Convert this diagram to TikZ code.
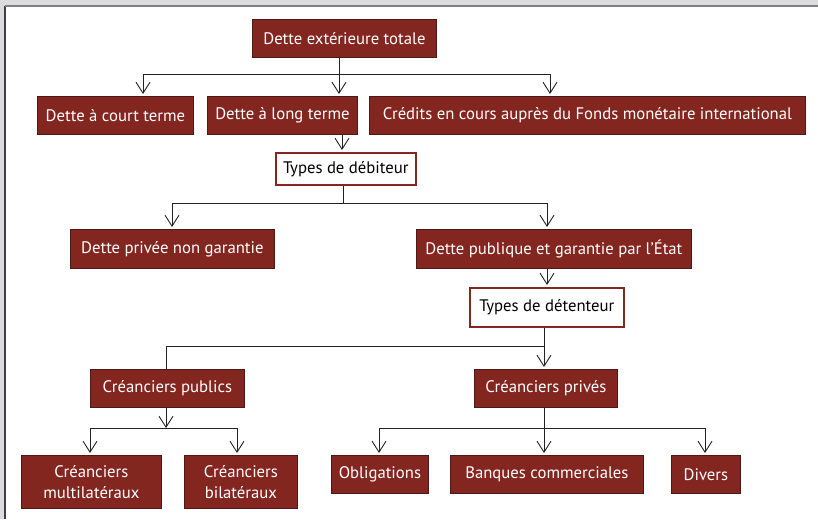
\documentclass[tikz,border=0pt]{standalone}
\usepackage{fontspec}
\setmainfont{PT Sans}
\usetikzlibrary{arrows.meta}
\definecolor{boxred}{HTML}{842620}
\definecolor{boxedge}{HTML}{4B1A16}
\definecolor{frameg}{HTML}{DCDCDE}
\definecolor{lineg}{HTML}{222222}
\tikzset{
  redbox/.style={draw=boxedge, line width=0.8pt, fill=boxred, text=white, inner sep=0pt, anchor=north west, align=center, font=\fontsize{16.7}{21.5}\selectfont},
  whitebox/.style={draw=boxred, line width=1.6pt, fill=white, text=black, inner sep=0pt, anchor=north west, align=center, font=\fontsize{16.7}{21.5}\selectfont},
  conn/.style={draw=lineg, line width=0.9pt},
  arr/.style={conn, -{Straight Barb[length=11pt,width=14pt,line width=0.9pt]}, shorten >=2pt},
}
\begin{document}
\begin{tikzpicture}[x=1pt,y=-1pt]
\useasboundingbox (0,0) rectangle (818,519);
\fill[frameg] (0,0) rectangle (818,519);
\fill[white] (5,6) rectangle (818,519);
\draw[color=black!75, line width=1.5pt] (5,519) -- (5,6);
\draw[color=black!50, line width=1.5pt] (5,6) -- (818,6);

% nodes
\node[redbox, minimum width=184, minimum height=38] (top) at (252,19) {Dette extérieure totale};
\node[redbox, minimum width=156, minimum height=38] (short) at (37,96) {Dette à court terme};
\node[redbox, minimum width=150, minimum height=38] (long) at (207,96) {Dette à long terme};
\node[redbox, minimum width=436, minimum height=38] (credits) at (369,96) {Crédits en cours auprès du Fonds monétaire international};
\node[whitebox, minimum width=140, minimum height=32] (tdeb) at (275,152) {Types de débiteur};
\node[redbox, minimum width=204, minimum height=39] (priv) at (70,229) {Dette privée non garantie};
\node[redbox, minimum width=275, minimum height=39] (pub) at (416,229) {Dette publique et garantie par l’État};
\node[whitebox, minimum width=154, minimum height=39] (tdet) at (469,287) {Types de détenteur};
\node[redbox, minimum width=154, minimum height=38] (cpub) at (90,369) {Créanciers publics};
\node[redbox, minimum width=143, minimum height=38] (cpriv) at (474,369) {Créanciers privés};
\node[redbox, minimum width=140, minimum height=53] (multi) at (21,455) {Créanciers\\multilatéraux};
\node[redbox, minimum width=113, minimum height=53] (bi) at (184,455) {Créanciers\\bilatéraux};
\node[redbox, minimum width=97, minimum height=38] (oblig) at (331,455) {Obligations};
\node[redbox, minimum width=193, minimum height=38] (banq) at (450,455) {Banques commerciales};
\node[redbox, minimum width=69, minimum height=38] (divers) at (671,455) {Divers};

% level 1
\coordinate (j1) at (339,74);
\coordinate (a1) at (143,74);
\coordinate (a3) at (550,74);
\draw[conn] (j1 |- top.south) -- (j1);
\draw[conn] (a1) -- (a3);
\draw[arr] (a1) -- (a1 |- short.north);
\draw[arr] (j1) -- (j1 |- long.north);
\draw[arr] (a3) -- (a3 |- credits.north);

% long -> types de debiteur
\coordinate (b0) at (342,140);
\draw[arr] (b0 |- long.south) -- (b0 |- tdeb.north);

% types de debiteur -> priv/pub
\coordinate (j2) at (343,203);
\coordinate (c1) at (172,203);
\coordinate (c2) at (547,203);
\draw[conn] (j2 |- tdeb.south) -- (j2);
\draw[conn] (c1) -- (c2);
\draw[arr] (c1) -- (c1 |- priv.north);
\draw[arr] (c2) -- (c2 |- pub.north);

% pub -> types de detenteur
\draw[arr] (c2 |- pub.south) -- (c2 |- tdet.north);

% types de detenteur -> creanciers
\coordinate (j3) at (544,346);
\coordinate (d1) at (166,346);
\draw[arr] (j3 |- tdet.south) -- (j3 |- cpriv.north);
\draw[conn] (j3) -- (d1) -- (d1 |- cpub.north);

% creanciers publics -> multi/bi
\coordinate (e0) at (166,428);
\coordinate (e1) at (90,428);
\coordinate (e2) at (237,428);
\draw[arr, shorten >=0pt] (e0 |- cpub.south) -- (e0);
\draw[conn] (e1) -- (e2);
\draw[arr] (e1) -- (e1 |- multi.north);
\draw[arr] (e2) -- (e2 |- bi.north);

% creanciers prives -> oblig/banq/divers
\coordinate (f1) at (379,428);
\coordinate (f3) at (705,428);
\draw[arr] (j3 |- cpriv.south) -- (j3 |- banq.north);
\draw[conn] (f1) -- (f3);
\draw[arr] (f1) -- (f1 |- oblig.north);
\draw[arr] (f3) -- (f3 |- divers.north);
\end{tikzpicture}
\end{document}
